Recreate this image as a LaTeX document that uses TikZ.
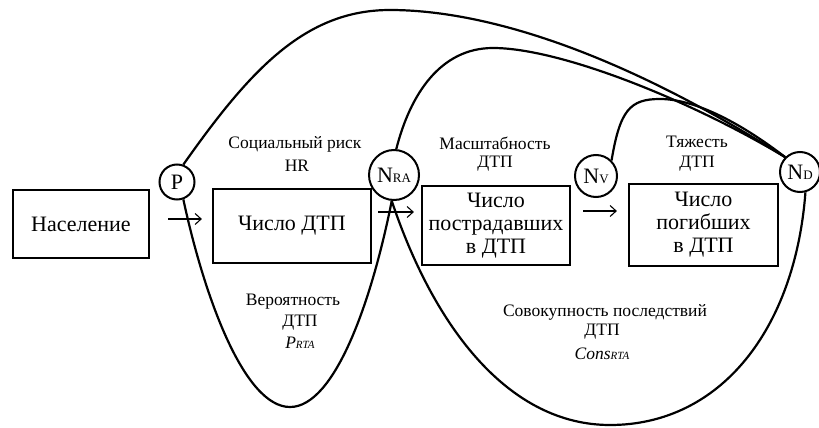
\documentclass[tikz,border=0pt]{standalone}
\usepackage{fontspec}
\setmainfont{Liberation Serif}
\usetikzlibrary{arrows.meta}
\begin{document}
\begin{tikzpicture}[x=1pt,y=-1pt,
  boxnode/.style={draw, line width=2.2pt, inner sep=0pt, align=center, font=\fontsize{22}{23}\selectfont},
  circ/.style={draw, circle, line width=2pt, inner sep=0pt, font=\fontsize{22}{22}\selectfont},
  link/.style={line width=2.2pt},
  arr/.style={line width=1.1pt, -{Straight Barb[length=6pt,width=11pt]}},
  lab/.style={inner sep=0pt, font=\fontsize{17.5}{20}\selectfont},
  sub/.style={}]
\useasboundingbox (0,0) rectangle (819,428);
\fill[white] (0,0) rectangle (819,428);
% boxes
\node[boxnode, minimum width=136pt, minimum height=68pt] (pop) at (81,224) {Население};
\node[boxnode, minimum width=158pt, minimum height=74pt] (acc) at (292,226) {Число ДТП};
\node[boxnode, minimum width=148pt, minimum height=79pt] (inj) at (496,225.5) {Число\\пострадавших\\в ДТП};
\node[boxnode, minimum width=149pt, minimum height=82pt] (dead) at (703.5,225) {Число\\погибших\\в ДТП};
% circles
\node[circ, minimum size=35pt] (P) at (177,182) {P};
\node[circ, minimum size=50pt] (NRA) at (394,175) {N{\fontsize{13}{13}\selectfont RA}};
\node[circ, minimum size=42pt] (NV) at (596,176) {N{\fontsize{13}{13}\selectfont V}};
\node[circ, minimum size=40pt] (ND) at (800,172) {N{\fontsize{13}{13}\selectfont D}};
% arrows
\draw[arr] ([xshift=18pt,yshift=5pt]pop.east) -- ([xshift=-10pt,yshift=7pt]acc.west);
\draw[arr] ([xshift=6pt,yshift=14pt]acc.east) -- ([xshift=-7pt,yshift=13.5pt]inj.west);
\draw[arr] ([xshift=12pt,yshift=14.5pt]inj.east) -- ([xshift=-11pt,yshift=14pt]dead.west);
% labels
\node[lab] (hr1) at (295,144) {Социальный риск};
\node[lab] (hr2) at (297,166) {HR};
\node[lab] (sc1) at (495,143) {Масштабность};
\node[lab] (sc2) at (495,164) {ДТП};
\node[lab] (sv1) at (697,142) {Тяжесть};
\node[lab] (sv2) at (697,164) {ДТП};
\node[lab] (pr1) at (293,302) {Вероятность};
\node[lab] (pr2) at (300,323) {ДТП};
\node[lab] (pr3) at (300,343) {\textit{P{\fontsize{11}{11}\selectfont RTA}}};
\node[lab] (cs1) at (605,312) {Совокупность последствий};
\node[lab] (cs2) at (602,332) {ДТП};
\node[lab] (cs3) at (602,354) {\textit{Cons{\fontsize{11}{11}\selectfont RTA}}};
% connectors
\draw[link] (P.70) .. controls (250,70) and (305,10) .. (390,10) .. controls (470,10) and (600,40) .. (ND.135);
\draw[link] (NRA.85) .. controls (410,95) and (440,48) .. (493,48) .. controls (560,48) and (690,100) .. (ND.135);
\draw[link] (NV.45) .. controls (620,110) and (630,99) .. (660,99) .. controls (700,99) and (750,130) .. (ND.135);
\draw[link] (P.-70) .. controls (205,300) and (245,407) .. (290,407) .. controls (335,407) and (372,300) .. (NRA.-95);
\draw[link] (NRA.-95) .. controls (435,330) and (510,425) .. (610,425) .. controls (720,425) and (795,330) .. (ND.-75);
\end{tikzpicture}
\end{document}
